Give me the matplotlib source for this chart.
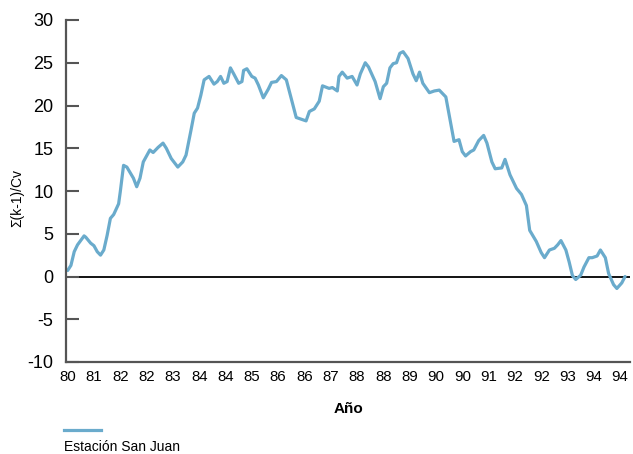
"""
Cumulative deviation curve, Estación San Juan (1980-1994)
"""

import matplotlib
matplotlib.use('Agg')
import matplotlib.pyplot as plt
from matplotlib.lines import Line2D

plt.rcParams['font.family'] = ['Liberation Sans', 'DejaVu Sans']

# month index since start of 1980 and the value
months = [0, 1, 2, 3, 5, 5.5, 7, 8, 9, 10, 11, 12, 13, 14, 15.5, 16, 17, 18, 20, 21,
          22, 23, 25, 26, 27.5, 29, 30, 31.5, 33.5, 35, 36, 37, 37.5, 38.5, 39.5, 40.5, 41.5, 43, 44.5, 45.5,
          46.5, 47.5, 48.5, 49.5, 50.5, 52, 53, 53.5, 54.5, 56, 57, 58, 59.5, 61, 62, 63.5,
          65, 66.5, 68, 69.5, 71, 72.5, 73.5, 75, 76.5, 77.5, 79.5, 80.5, 82, 82.5, 83.5, 85,
          86.5, 88, 89, 90.5, 91.5, 93.5, 95, 96, 97, 98, 99, 100, 101, 102, 103.5, 105,
          106, 107, 108, 110, 111.5, 113, 115, 116, 117.5, 119, 120, 121, 122.5, 123.5, 125,
          126.5, 127.5, 129, 130, 132, 133, 134.5, 136.5, 138, 139.5, 140.5, 142.5, 144,
          145, 146.5, 148, 149, 150, 151.5, 152.5, 153.5, 154.5, 156, 157, 158.5, 159.5,
          161, 162, 163.5, 164.5, 166, 167, 168.5, 169.5]
values = [0.7, 1.3, 2.9, 3.7, 4.75, 4.6, 3.9, 3.6, 2.9, 2.5, 3.1, 4.8, 6.8, 7.25, 8.5, 9.9, 13.0, 12.8, 11.5, 10.5,
          11.5, 13.4, 14.8, 14.5, 15.1, 15.6, 15.0, 13.8, 12.8, 13.4, 14.2, 16.1, 17.1, 19.1, 19.7, 21.2, 23.0, 23.4, 22.5, 22.8,
          23.4, 22.6, 22.8, 24.4, 23.7, 22.6, 22.8, 24.1, 24.3, 23.4, 23.2, 22.4, 20.9, 21.9, 22.7, 22.8,
          23.5, 23.0, 20.8, 18.6, 18.4, 18.2, 19.3, 19.6, 20.5, 22.3, 22.0, 22.1, 21.7, 23.4, 23.9, 23.2,
          23.4, 22.4, 23.7, 25.0, 24.5, 22.8, 20.8, 22.2, 22.6, 24.4, 24.9, 25.0, 26.1, 26.3, 25.5, 23.7,
          22.9, 23.9, 22.6, 21.5, 21.7, 21.8, 21.0, 18.9, 15.8, 16.0, 14.6, 14.1, 14.6, 14.8, 15.9,
          16.5, 15.6, 13.4, 12.6, 12.7, 13.7, 11.9, 10.3, 9.6, 8.3, 5.4, 4.1, 2.8,
          2.2, 3.1, 3.3, 3.7, 4.2, 3.1, 1.7, 0.1, -0.35, 0.15, 1.1, 2.2, 2.2,
          2.4, 3.1, 2.2, 0.35, -0.95, -1.4, -0.75, 0.0]

tick_months = list(range(0, 169, 8))
tick_labels = ['80', '81', '82', '82', '83', '84', '84', '85', '86', '86', '87',
               '88', '88', '89', '90', '90', '91', '92', '92', '93', '94', '94']
y_ticks = [-10, -5, 0, 5, 10, 15, 20, 25, 30]

line_color = '#6aabcc'
axis_color = '#555555'

fig = plt.figure(figsize=(6.33, 4.54), dpi=100)
ax = fig.add_axes([66 / 633, 1 - 362 / 454, (630 - 66) / 633, (362 - 20) / 454])

ax.axhline(0, color='black', linewidth=1.3, zorder=1)
ax.plot(months, values, color=line_color, linewidth=2.3,
        solid_joinstyle='round', solid_capstyle='round', zorder=2)

ax.set_xlim(-0.5, 171)
ax.set_ylim(-10, 30)
ax.set_yticks(y_ticks)
ax.set_yticklabels([str(v) for v in y_ticks], fontsize=13)
ax.set_xticks(tick_months)
ax.set_xticklabels(tick_labels, fontsize=10.8)

ax.tick_params(axis='y', direction='in', length=9, width=1.5, color=axis_color, pad=9)
ax.tick_params(axis='x', length=0, pad=6)

for side in ['top', 'right']:
    ax.spines[side].set_visible(False)
for side in ['left', 'bottom']:
    ax.spines[side].set_color(axis_color)
    ax.spines[side].set_linewidth(1.6)

ax.set_ylabel('Σ(k-1)/Cv', fontsize=10)
ax.yaxis.set_label_coords(-0.074, 0.48)
ax.set_xlabel('Año', fontsize=11, fontweight='bold')
ax.xaxis.set_label_coords(0.5, -0.118)

# legend drawn below the axis: swatch on top, label underneath
fig.add_artist(Line2D([64 / 633, 101 / 633], [1 - 430 / 454] * 2,
                      transform=fig.transFigure, color=line_color, linewidth=2.3))
fig.text(64 / 633, 1 - 447 / 454, 'Estación San Juan', fontsize=10, va='center', ha='left')

fig.savefig('out.png', dpi=100)
